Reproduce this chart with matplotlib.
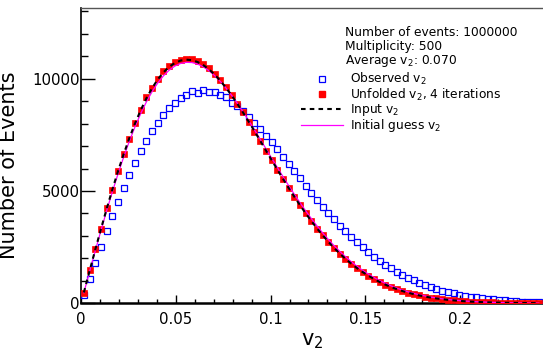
import numpy as np
import matplotlib
matplotlib.use("Agg")
import matplotlib.pyplot as plt
from matplotlib.ticker import MultipleLocator
from matplotlib.lines import Line2D

# histogram bins in v2 (centres every 0.003)
n_bins = 81
bin_step = 0.003
v2_centers = bin_step / 2 + bin_step * np.arange(n_bins)

observed = [364, 1088, 1806, 2512, 3201, 3870, 4514, 5130, 5713, 6261,
            6771, 7240, 7666, 8048, 8400, 8700, 8900, 9120, 9262, 9460,
            9370, 9500, 9430, 9390, 9280, 9180, 8930, 8790, 8580, 8303,
            8040, 7761, 7467, 7162, 6849, 6529, 6206, 5881, 5558, 5237,
            4921, 4611, 4308, 4015, 3732, 3459, 3198, 2948, 2710, 2485,
            2273, 2074, 1888, 1714, 1551, 1401, 1262, 1134, 1017, 910,
            812, 722, 641, 568, 501, 442, 388, 341, 298, 260,
            227, 197, 170, 147, 127, 109, 94, 80, 69, 59, 50]

unfolded = [455, 1470, 2400, 3290, 4230, 5040, 5900, 6660, 7330, 8040,
            8620, 9170, 9600, 10010, 10330, 10560, 10730, 10850, 10880, 10870,
            10800, 10660, 10480, 10200, 9930, 9610, 9270, 8890, 8500, 8080,
            7650, 7230, 6800, 6380, 5950, 5540, 5130, 4740, 4360, 4000,
            3650, 3330, 3020, 2730, 2460, 2210, 1980, 1770, 1570, 1390,
            1230, 1080, 950, 830, 725, 630, 545, 470, 405, 350,
            300, 255, 215, 185, 155, 130, 110, 90, 75, 63,
            53, 44, 36, 30, 24, 20, 16, 13, 11, 8, 7]

input_v2 = [480, 1435, 2378, 3301, 4196, 5055, 5872, 6640, 7354, 8009,
            8600, 9126, 9582, 9969, 10284, 10528, 10703, 10809, 10849, 10827,
            10745, 10607, 10419, 10185, 9909, 9597, 9254, 8885, 8495, 8088,
            7670, 7245, 6817, 6390, 5966, 5550, 5144, 4752, 4373, 4010,
            3664, 3336, 3027, 2737, 2467, 2216, 1984, 1770, 1574, 1395,
            1232, 1085, 952, 833, 726, 631, 547, 472, 407, 349,
            299, 255, 216, 184, 155, 130, 109, 91, 76, 63,
            53, 44, 36, 30, 24, 20, 16, 13, 11, 8, 7]

initial_guess = [470, 1405, 2328, 3233, 4110, 4953, 5756, 6511, 7215, 7862,
                 8447, 8969, 9424, 9812, 10131, 10381, 10564, 10679, 10731, 10721,
                 10653, 10530, 10358, 10139, 9879, 9583, 9255, 8901, 8525, 8132,
                 7725, 7312, 6893, 6475, 6058, 5648, 5246, 4858, 4481, 4118,
                 3772, 3443, 3132, 2839, 2566, 2311, 2075, 1857, 1656, 1472,
                 1304, 1152, 1014, 890, 778, 678, 590, 511, 442, 380,
                 327, 280, 238, 203, 172, 145, 122, 102, 86, 71,
                 60, 50, 41, 34, 28, 23, 18, 15, 13, 9, 8]

xtick_vals = [0, 0.05, 0.1, 0.15, 0.2]
xtick_labels = ["0", "0.05", "0.1", "0.15", "0.2"]
ytick_vals = [0, 5000, 10000]
ytick_labels = ["0", "5000", "10000"]

info_lines = ["Number of events: 1000000", "Multiplicity: 500", "Average v$_2$: 0.070"]

plt.rcParams["font.family"] = ["DejaVu Sans"]

fig = plt.figure(figsize=(5.43, 3.58), dpi=100)
ax = fig.add_axes([81 / 543, 54.7 / 358, 462 / 543, 295.3 / 358])

ax.plot(v2_centers, observed, ls="none", marker="s", ms=4.2, mfc="none",
        mec="#0000ff", mew=0.9, zorder=3)
ax.plot(v2_centers, unfolded, ls="none", marker="s", ms=4.3, mfc="#ff0000",
        mec="#ff0000", mew=0.5, zorder=4)
ax.plot(v2_centers, initial_guess, color="#ff00ff", lw=0.9, zorder=5)
ax.plot(v2_centers, input_v2, color="black", lw=1.5, ls=(0, (2.2, 2.0)), zorder=6)

ax.set_xlim(0, 0.2437)
ax.set_ylim(0, 13150)

ax.set_xticks(xtick_vals, labels=xtick_labels)
ax.set_yticks(ytick_vals, labels=ytick_labels)
ax.xaxis.set_minor_locator(MultipleLocator(0.01))
ax.yaxis.set_minor_locator(MultipleLocator(1000))
ax.tick_params(axis="both", which="both", direction="in", labelsize=10.8, width=1.0)
ax.tick_params(axis="x", which="major", length=6, pad=6)
ax.tick_params(axis="x", which="minor", length=3)
ax.tick_params(axis="y", which="major", length=10, pad=1)
ax.tick_params(axis="y", which="minor", length=5)
ax.tick_params(top=False, right=False, which="both")

ax.spines["right"].set_visible(False)
ax.spines["top"].set_color("#555555")
ax.spines["top"].set_linewidth(1.0)
ax.spines["left"].set_linewidth(1.2)
ax.spines["bottom"].set_linewidth(1.8)

ax.set_ylabel("Number of Events", fontsize=15)
ax.yaxis.set_label_coords(-0.135, 0.468)
ax.set_xlabel("v$_2$", fontsize=15)
ax.xaxis.set_label_coords(0.5, -0.095)

for i, line in enumerate(info_lines):
    fig.text(345 / 543, 1 - (35.7 + 14 * i) / 358, line, fontsize=8.8,
             ha="left", va="baseline")

handles = [
    Line2D([], [], ls="none", marker="s", ms=4.2, mfc="none", mec="#0000ff", mew=0.9),
    Line2D([], [], ls="none", marker="s", ms=4.3, mfc="#ff0000", mec="#ff0000"),
    Line2D([], [], color="black", lw=1.5, ls=(0, (2.2, 2.0))),
    Line2D([], [], color="#ff00ff", lw=0.9),
]
labels = ["Observed v$_2$", "Unfolded v$_2$, 4 iterations", "Input v$_2$", "Initial guess v$_2$"]
fig.legend(handles, labels, loc="upper left", bbox_to_anchor=(295 / 543, 1 - 65 / 358),
           frameon=False, fontsize=8.8, handlelength=3.4, handletextpad=0.6,
           borderpad=0, labelspacing=-0.05)

fig.savefig("out.png", dpi=100)
